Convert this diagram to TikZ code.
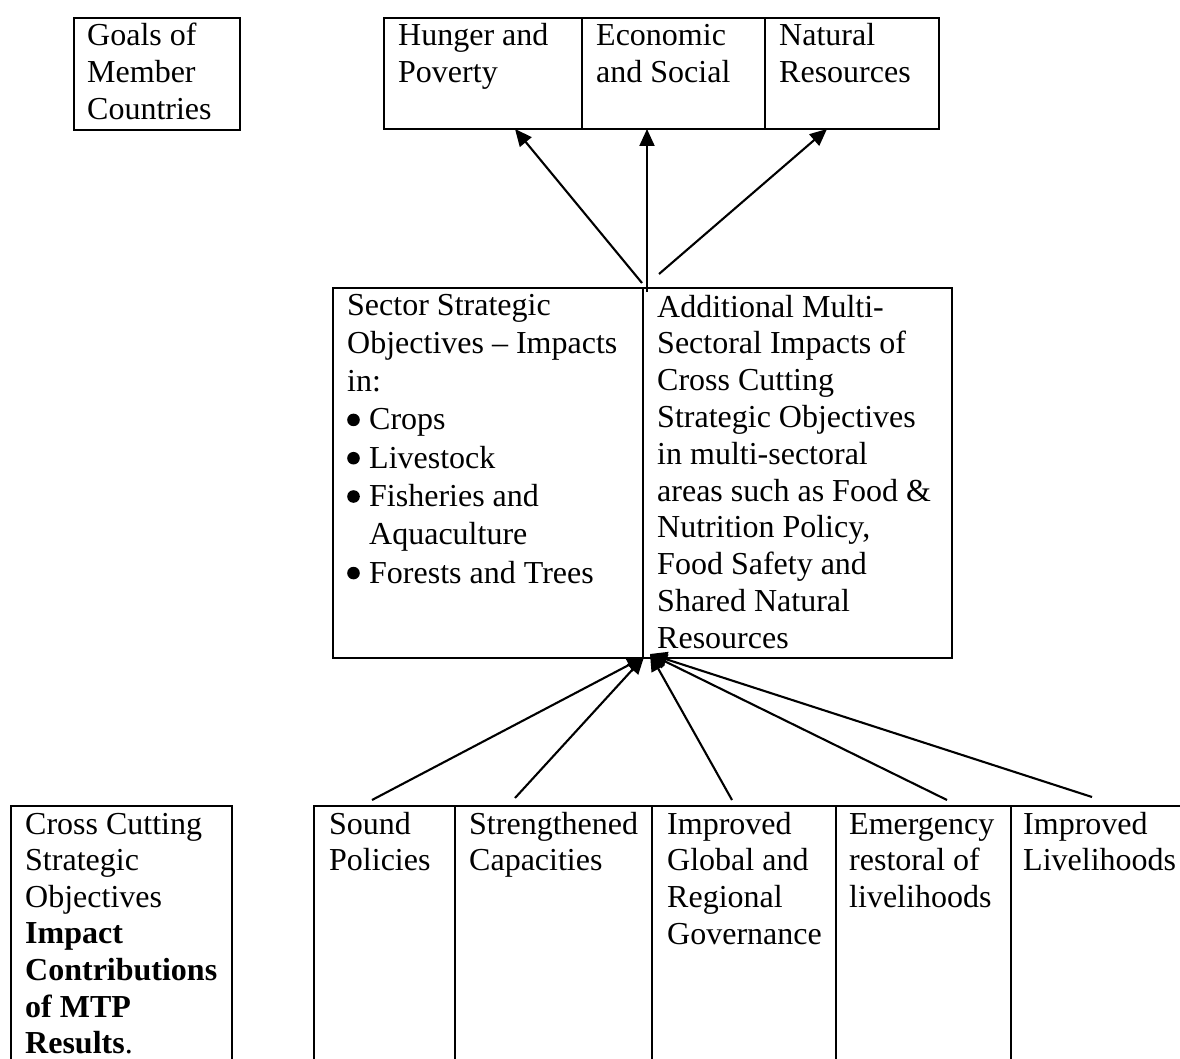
\documentclass[tikz,border=0pt]{standalone}
\usepackage{fontspec}
\setmainfont{Liberation Serif}
\usetikzlibrary{arrows.meta}
\newcommand{\bul}{\makebox[22pt][l]{\tikz[baseline=-10pt]\fill (6.3pt,0pt) circle (6.3pt);}}
\newcommand{\lines}[1]{\begin{tabular}[t]{@{}l@{}}#1\end{tabular}}
\begin{document}
\begin{tikzpicture}[x=1pt,y=-1pt,
  cell/.style={draw, line width=2.3pt, rectangle, inner sep=0pt, anchor=north west},
  txt/.style={inner sep=0pt, anchor=base west, font=\fontsize{32}{36.8}\selectfont},
  txtwide/.style={inner sep=0pt, anchor=base west, font=\fontsize{32}{38.3}\selectfont},
  arr/.style={line width=2.1pt, -{Triangle[length=17pt,width=15pt]}}]
\useasboundingbox (0,0) rectangle (1180,1059);
\begin{scope}
\clip (0,0) rectangle (1180,1059);
% top row
\node[cell, minimum width=166pt, minimum height=112pt] (goals) at (73,17) {};
\node[cell, minimum width=198pt, minimum height=111pt] (hunger) at (383,17) {};
\node[cell, minimum width=183pt, minimum height=111pt] (econ) at (581,17) {};
\node[cell, minimum width=174pt, minimum height=111pt] (nat) at (764,17) {};
% middle
\node[cell, minimum width=310pt, minimum height=370pt] (sector) at (332,287) {};
\node[cell, minimum width=309pt, minimum height=370pt] (addl) at (642,287) {};
% bottom
\node[cell, minimum width=221pt, minimum height=300pt] (cross) at (10,805) {};
\node[cell, minimum width=141pt, minimum height=300pt] (sound) at (313,805) {};
\node[cell, minimum width=197pt, minimum height=300pt] (strength) at (454,805) {};
\node[cell, minimum width=184pt, minimum height=300pt] (gov) at (651,805) {};
\node[cell, minimum width=175pt, minimum height=300pt] (emerg) at (835,805) {};
\node[cell, minimum width=180pt, minimum height=300pt] (liveli) at (1010,805) {};
\end{scope}

% texts
\node[txt] (tgoals) at (87,46) {\lines{Goals of\\Member\\Countries}};
\node[txt] (thunger) at (398,46) {\lines{Hunger and\\Poverty}};
\node[txt] (tecon) at (596,46) {\lines{Economic\\and Social}};
\node[txt] (tnat) at (779,46) {\lines{Natural\\Resources}};

\node[txtwide] (tsector) at (347,315) {\lines{Sector Strategic\\Objectives – Impacts\\in:\\\bul Crops\\\bul Livestock\\\bul Fisheries and\\\hspace*{22pt}Aquaculture\\\bul Forests and Trees}};
\node[txt] (taddl) at (657,317) {\lines{Additional Multi-\\Sectoral Impacts of\\Cross Cutting\\Strategic Objectives\\in multi-sectoral\\areas such as Food \&\\Nutrition Policy,\\Food Safety and\\Shared Natural\\Resources}};

\node[txt, font=\fontsize{32}{36.6}\selectfont] (tcross) at (25,834) {\lines{Cross Cutting\\Strategic\\Objectives\\\textbf{Impact}\\\textbf{Contributions}\\\textbf{of MTP}\\\textbf{Results}.}};
\node[txt] (tsound) at (329,834) {\lines{Sound\\Policies}};
\node[txt] (tstrength) at (469,834) {\lines{Strengthened\\Capacities}};
\node[txt] (tgov) at (667,834) {\lines{Improved\\Global and\\Regional\\Governance}};
\node[txt] (temerg) at (849,834) {\lines{Emergency\\restoral of\\livelihoods}};
\node[txt] (tliveli) at (1023,834) {\lines{Improved\\Livelihoods}};

% arrow end points
\coordinate (u1) at (642,283);
\coordinate (u2) at (647,292);
\coordinate (u3) at (659,274);
\coordinate (h1) at (515,129);
\coordinate (h2) at (647,129);
\coordinate (h3) at (827,129);
\draw[arr] (u1) -- (h1);
\draw[arr] (u2) -- (h2);
\draw[arr] (u3) -- (h3);

\coordinate (tipL) at (644,657);
\coordinate (tipR) at (650,654);
\coordinate (b1) at (372,800);
\coordinate (b2) at (515,798);
\coordinate (b3) at (732,800);
\coordinate (b4) at (947,800);
\coordinate (b5) at (1092,797);
\draw[arr] (b1) -- (tipL);
\draw[arr] (b2) -- (tipL);
\draw[arr] (b3) -- (tipR);
\draw[arr] (b4) -- (tipR);
\draw[arr] (b5) -- (tipR);
\end{tikzpicture}
\end{document}
